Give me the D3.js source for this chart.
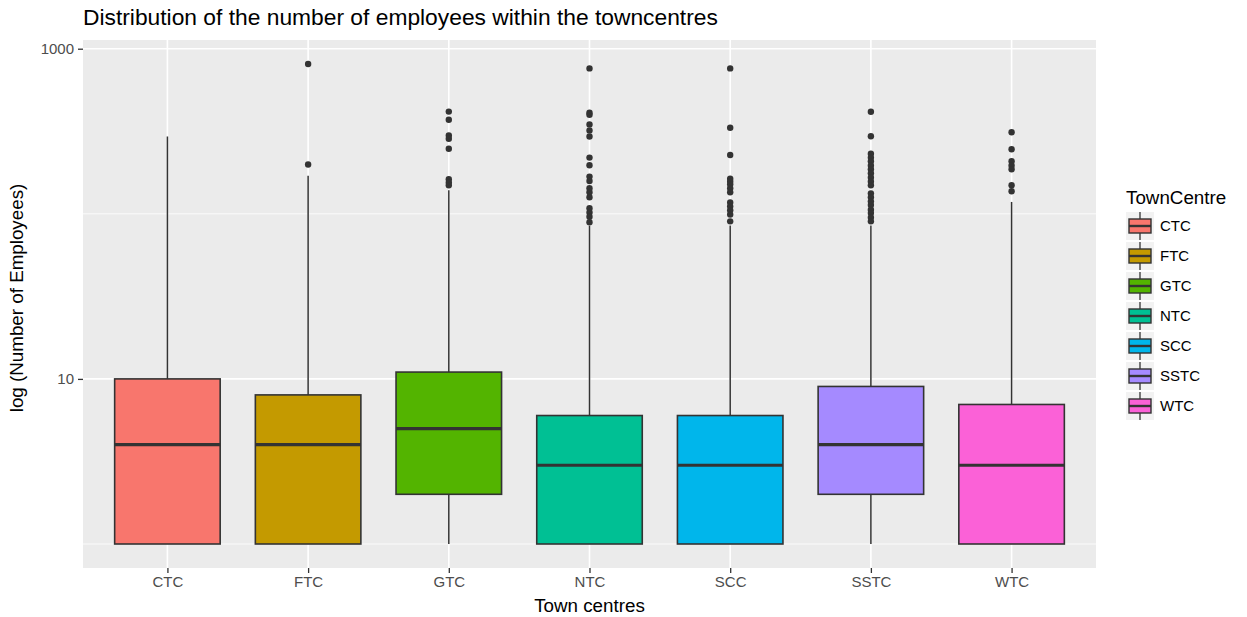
<!DOCTYPE html>
<html>
<head>
<meta charset="utf-8">
<script src="https://cdn.jsdelivr.net/npm/d3@7"></script>
<style>
  html, body { margin: 0; padding: 0; background: #ffffff; }
  svg { display: block; font-family: "Liberation Sans", Arial, sans-serif; }
</style>
</head>
<body>
<svg id="chart" width="1247" height="617"></svg>
<script>
// Town centres and their box-plot statistics (employees per business, log scale)
const categories = ["CTC", "FTC", "GTC", "NTC", "SCC", "SSTC", "WTC"];
const colors = ["#F8766D", "#C49A00", "#53B400", "#00C094", "#00B6EB", "#A58AFF", "#FB61D7"];
const whiskerLow = [1, 1, 1, 1, 1, 1, 1];
const q1 = [1, 1, 2, 1, 1, 2, 1];
const median = [4, 4, 5, 3, 3, 4, 3];
const q3 = [10, 8, 11, 6, 6, 9, 7];
const whiskerHigh = [294, 170, 139, 85, 85, 85, 118];
const outliers = [
  [],
  [199, 808],
  [416, 371, 298, 285, 248, 162, 155, 149],
  [760, 410, 398, 348, 320, 294, 219, 197, 168, 158, 143, 135, 126, 108, 102, 96, 89],
  [760, 332, 227, 163, 157, 151, 143, 135, 117, 111, 105, 99, 90],
  [415, 295, 231, 219, 208, 196, 186, 176, 166, 157, 149, 133, 126, 119, 113, 106, 101, 95, 90],
  [312, 246, 208, 196, 186, 149, 137]
];
const yTicks = [10, 1000];
const yMinor = [1, 100];

const titleText = "Distribution of the number of employees within the towncentres";
const xTitle = "Town centres";
const yTitle = "log (Number of Employees)";
const legendTitle = "TownCentre";

const svg = d3.select("#chart");
const panel = { left: 83, right: 1096, top: 40, bottom: 568 };

// y domain: data extent on log10, expanded 5% each side
const allVals = whiskerLow.concat(whiskerHigh, outliers.flat());
const lo = Math.log10(d3.min(allVals));
const hi = Math.log10(d3.max(allVals));
const pad = (hi - lo) * 0.05;
const y = d3.scaleLog()
  .domain([Math.pow(10, lo - pad), Math.pow(10, hi + pad)])
  .range([panel.bottom, panel.top]);

const x = d3.scalePoint()
  .domain(categories)
  .range([panel.left, panel.right])
  .padding(0.6);
const boxW = x.step() * 0.75;

// panel background
svg.append("rect")
  .attr("x", panel.left).attr("y", panel.top)
  .attr("width", panel.right - panel.left)
  .attr("height", panel.bottom - panel.top)
  .attr("fill", "#EBEBEB");

// grid lines
const grid = svg.append("g");
grid.selectAll("line.minor").data(yMinor).join("line")
  .attr("x1", panel.left).attr("x2", panel.right)
  .attr("y1", d => y(d)).attr("y2", d => y(d))
  .attr("stroke", "#ffffff").attr("stroke-width", 0.8);
grid.selectAll("line.major").data(yTicks).join("line")
  .attr("x1", panel.left).attr("x2", panel.right)
  .attr("y1", d => y(d)).attr("y2", d => y(d))
  .attr("stroke", "#ffffff").attr("stroke-width", 1.6);
grid.selectAll("line.vert").data(categories).join("line")
  .attr("x1", d => x(d)).attr("x2", d => x(d))
  .attr("y1", panel.top).attr("y2", panel.bottom)
  .attr("stroke", "#ffffff").attr("stroke-width", 1.6);

// boxes
const idx = d3.range(categories.length);
const boxes = svg.append("g");
const g = boxes.selectAll("g").data(idx).join("g");
g.append("line")
  .attr("x1", i => x(categories[i])).attr("x2", i => x(categories[i]))
  .attr("y1", i => y(q3[i])).attr("y2", i => y(whiskerHigh[i]))
  .attr("stroke", "#333333").attr("stroke-width", 1.5);
g.append("line")
  .attr("x1", i => x(categories[i])).attr("x2", i => x(categories[i]))
  .attr("y1", i => y(q1[i])).attr("y2", i => y(whiskerLow[i]))
  .attr("stroke", "#333333").attr("stroke-width", 1.5);
g.append("rect")
  .attr("x", i => x(categories[i]) - boxW / 2)
  .attr("width", boxW)
  .attr("y", i => y(q3[i]))
  .attr("height", i => y(q1[i]) - y(q3[i]))
  .attr("fill", i => colors[i])
  .attr("stroke", "#333333").attr("stroke-width", 1.6);
g.append("line")
  .attr("x1", i => x(categories[i]) - boxW / 2)
  .attr("x2", i => x(categories[i]) + boxW / 2)
  .attr("y1", i => y(median[i])).attr("y2", i => y(median[i]))
  .attr("stroke", "#333333").attr("stroke-width", 3.2);
g.each(function (i) {
  d3.select(this).selectAll("circle").data(outliers[i]).join("circle")
    .attr("cx", x(categories[i]))
    .attr("cy", d => y(d))
    .attr("r", 3.2)
    .attr("fill", "#333333");
});

// axes
const yAxis = svg.append("g")
  .attr("transform", `translate(${panel.left},0)`)
  .call(d3.axisLeft(y).tickValues(yTicks).tickFormat(d3.format("d")).tickSize(5).tickPadding(4));
const xAxis = svg.append("g")
  .attr("transform", `translate(0,${panel.bottom})`)
  .call(d3.axisBottom(x).tickSize(5).tickPadding(3));
[yAxis, xAxis].forEach(a => {
  a.select(".domain").remove();
  a.selectAll(".tick line").attr("stroke", "#333333").attr("stroke-width", 1.3);
  a.selectAll(".tick text")
    .attr("fill", "#4D4D4D")
    .style("font-size", "15px")
    .style("font-family", "'Liberation Sans', Arial, sans-serif");
});

// titles
svg.append("text")
  .attr("x", panel.left).attr("y", 25)
  .attr("fill", "#000000")
  .style("font-size", "22.8px")
  .text(titleText);
svg.append("text")
  .attr("x", (panel.left + panel.right) / 2).attr("y", 612)
  .attr("text-anchor", "middle")
  .attr("fill", "#000000")
  .style("font-size", "18.8px")
  .text(xTitle);
svg.append("text")
  .attr("transform", `translate(23,${(panel.top + panel.bottom) / 2 - 6}) rotate(-90)`)
  .attr("text-anchor", "middle")
  .attr("fill", "#000000")
  .style("font-size", "18.8px")
  .text(yTitle);

// legend
const legend = svg.append("g").attr("transform", "translate(1126,0)");
legend.append("text")
  .attr("x", 0).attr("y", 204)
  .attr("fill", "#000000")
  .style("font-size", "18.8px")
  .text(legendTitle);
const keys = legend.selectAll("g.key").data(idx).join("g")
  .attr("class", "key")
  .attr("transform", i => `translate(0,${226 + i * 30})`);
keys.append("rect")
  .attr("x", 0).attr("y", -14).attr("width", 28).attr("height", 28)
  .attr("fill", "#F2F2F2");
keys.append("line")
  .attr("x1", 14).attr("x2", 14).attr("y1", -14).attr("y2", 14)
  .attr("stroke", "#333333").attr("stroke-width", 1.3);
keys.append("rect")
  .attr("x", 3).attr("y", -7).attr("width", 22).attr("height", 14)
  .attr("fill", i => colors[i])
  .attr("stroke", "#333333").attr("stroke-width", 1.4);
keys.append("line")
  .attr("x1", 3).attr("x2", 25).attr("y1", 0).attr("y2", 0)
  .attr("stroke", "#333333").attr("stroke-width", 2.4);
keys.append("text")
  .attr("x", 34).attr("y", 0).attr("dy", "0.35em")
  .attr("fill", "#000000")
  .style("font-size", "15px")
  .text(i => categories[i]);
</script>
</body>
</html>
